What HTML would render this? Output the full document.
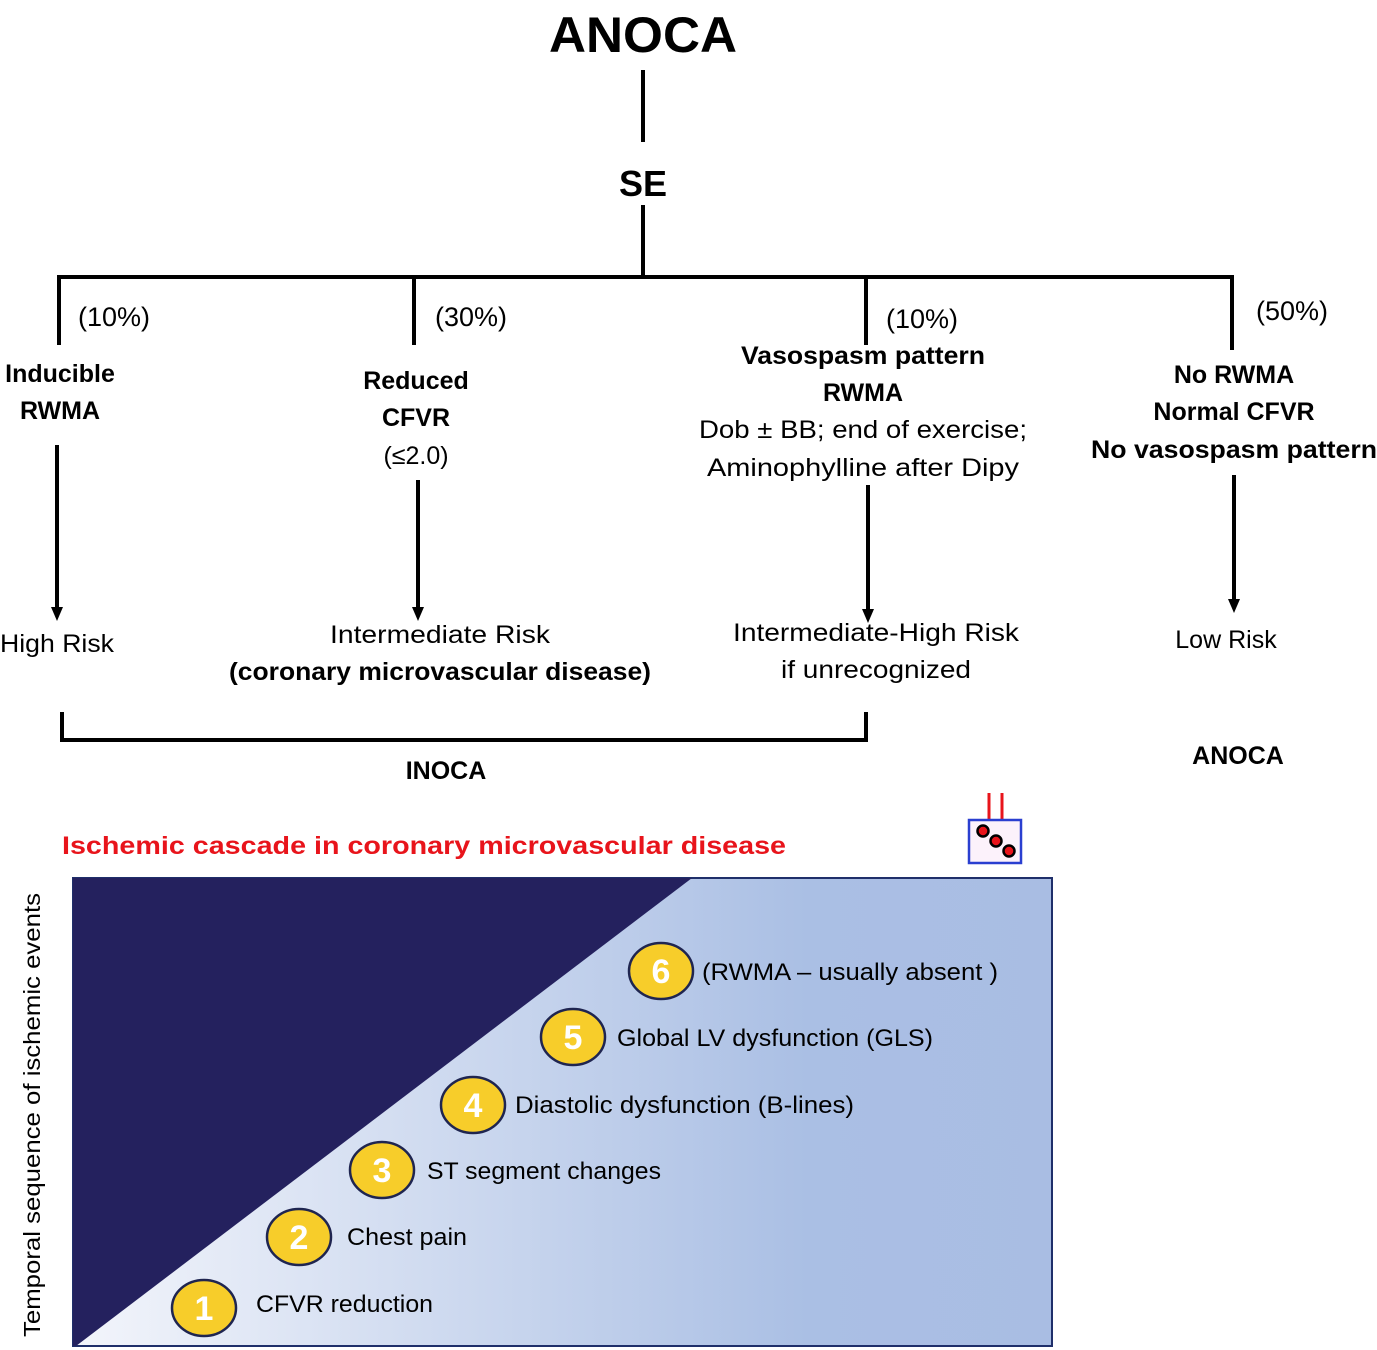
<!DOCTYPE html>
<html><head><meta charset="utf-8"><style>
html,body{margin:0;padding:0;background:#fff}
svg{display:block}
text{font-family:"Liberation Sans","DejaVu Sans",sans-serif}
</style></head><body>
<svg width="1377" height="1350" viewBox="0 0 1377 1350" xmlns="http://www.w3.org/2000/svg">
<defs>
<linearGradient id="g" x1="0" y1="0" x2="1" y2="0">
<stop offset="0" stop-color="#f3f5fb"/><stop offset="0.75" stop-color="#aabfe4"/><stop offset="1" stop-color="#a9bde3"/>
</linearGradient>
</defs>
<g fill="#000" text-anchor="middle">
<text x="643" y="52" font-size="50" font-weight="bold" textLength="188" lengthAdjust="spacingAndGlyphs">ANOCA</text>
<text x="643" y="196" font-size="36" font-weight="bold">SE</text>
</g>
<g stroke="#000" stroke-width="4" fill="none">
<line x1="643" y1="70" x2="643" y2="142"/>
<line x1="643" y1="205" x2="643" y2="277"/>
<line x1="57" y1="277" x2="1234" y2="277"/>
<line x1="59" y1="275" x2="59" y2="345"/>
<line x1="414" y1="275" x2="414" y2="345"/>
<line x1="866" y1="275" x2="866" y2="345"/>
<line x1="1232" y1="275" x2="1232" y2="350"/>
<line x1="57" y1="445" x2="57" y2="610"/>
<line x1="418" y1="480" x2="418" y2="610"/>
<line x1="868" y1="485" x2="868" y2="612"/>
<line x1="1234" y1="475" x2="1234" y2="602"/>
<polyline points="62,712 62,740 866,740 866,712"/>
</g>
<g fill="#000">
<polygon points="51,607 63,607 57,621"/>
<polygon points="412,607 424,607 418,621"/>
<polygon points="862,609 874,609 868,623"/>
<polygon points="1228,599 1240,599 1234,613"/>
</g>
<g font-size="27" fill="#000">
<text x="78" y="326">(10%)</text>
<text x="435" y="326">(30%)</text>
<text x="886" y="328">(10%)</text>
<text x="1256" y="320">(50%)</text>
</g>
<g font-size="25" fill="#000" text-anchor="middle">
<text x="60" y="382" font-weight="bold">Inducible</text>
<text x="60" y="419" font-weight="bold">RWMA</text>
<text x="416" y="389" font-weight="bold">Reduced</text>
<text x="416" y="426" font-weight="bold">CFVR</text>
<text x="416" y="464">(≤2.0)</text>
<text x="863" y="364" font-weight="bold" textLength="244" lengthAdjust="spacingAndGlyphs">Vasospasm pattern</text>
<text x="863" y="401" font-weight="bold">RWMA</text>
<text x="863" y="438" textLength="328" lengthAdjust="spacingAndGlyphs">Dob ± BB; end of exercise;</text>
<text x="863" y="476" textLength="312" lengthAdjust="spacingAndGlyphs">Aminophylline after Dipy</text>
<text x="1234" y="383" font-weight="bold">No RWMA</text>
<text x="1234" y="420" font-weight="bold">Normal  CFVR</text>
<text x="1234" y="458" font-weight="bold" textLength="286" lengthAdjust="spacingAndGlyphs">No vasospasm pattern</text>
<text x="57" y="652" textLength="114" lengthAdjust="spacingAndGlyphs">High Risk</text>
<text x="440" y="643" textLength="220" lengthAdjust="spacingAndGlyphs">Intermediate Risk</text>
<text x="440" y="680" font-weight="bold" textLength="422" lengthAdjust="spacingAndGlyphs">(coronary microvascular disease)</text>
<text x="876" y="641" textLength="286" lengthAdjust="spacingAndGlyphs">Intermediate-High Risk</text>
<text x="876" y="678" textLength="190" lengthAdjust="spacingAndGlyphs">if unrecognized</text>
<text x="1226" y="648">Low Risk</text>
<text x="446" y="779" font-weight="bold">INOCA</text>
<text x="1238" y="764" font-weight="bold">ANOCA</text>
</g>
<text x="62" y="854" font-size="25" font-weight="bold" fill="#e8141b" textLength="724" lengthAdjust="spacingAndGlyphs">Ischemic cascade in  coronary microvascular disease</text>
<rect x="73" y="878" width="979" height="468" fill="url(#g)" stroke="#1f2f6a" stroke-width="2"/>
<polygon points="73,878 692,878 76,1346 73,1346" fill="#24215e"/>
<g stroke="#e8141b" stroke-width="3"><line x1="989" y1="793" x2="989" y2="820"/><line x1="1002" y1="793" x2="1002" y2="820"/></g>
<rect x="969" y="820" width="52" height="43" fill="#fcf2fb" stroke="#2a3fd0" stroke-width="2.5"/>
<g fill="#e8141b" stroke="#000" stroke-width="2.5">
<circle cx="983" cy="831" r="5.5"/><circle cx="996" cy="841" r="5.5"/><circle cx="1009" cy="851" r="5.5"/>
</g>
<g fill="#f7cd2a" stroke="#1f2550" stroke-width="2.5">
<ellipse cx="204" cy="1308" rx="32" ry="28"/>
<ellipse cx="299" cy="1237" rx="32" ry="28"/>
<ellipse cx="382" cy="1170" rx="32" ry="28"/>
<ellipse cx="473" cy="1105" rx="32" ry="28"/>
<ellipse cx="573" cy="1037" rx="32" ry="28"/>
<ellipse cx="661" cy="971" rx="32" ry="28"/>
</g>
<g fill="#fff" font-size="34" font-weight="bold" text-anchor="middle">
<text x="204" y="1320">1</text><text x="299" y="1249">2</text><text x="382" y="1182">3</text>
<text x="473" y="1117">4</text><text x="573" y="1049">5</text><text x="661" y="983">6</text>
</g>
<g fill="#000" font-size="24">
<text x="256" y="1312" textLength="177" lengthAdjust="spacingAndGlyphs">CFVR reduction</text>
<text x="347" y="1245" textLength="120" lengthAdjust="spacingAndGlyphs">Chest pain</text>
<text x="427" y="1179" textLength="234" lengthAdjust="spacingAndGlyphs">ST segment changes</text>
<text x="515" y="1113" textLength="339" lengthAdjust="spacingAndGlyphs">Diastolic dysfunction (B-lines)</text>
<text x="617" y="1046" textLength="316" lengthAdjust="spacingAndGlyphs">Global LV dysfunction (GLS)</text>
<text x="702" y="980" textLength="296" lengthAdjust="spacingAndGlyphs">(RWMA – usually absent )</text>
</g>
<text transform="translate(40,1115) rotate(-90)" text-anchor="middle" font-size="23" fill="#000" textLength="444" lengthAdjust="spacingAndGlyphs">Temporal sequence of ischemic events</text>
</svg>
</body></html>
